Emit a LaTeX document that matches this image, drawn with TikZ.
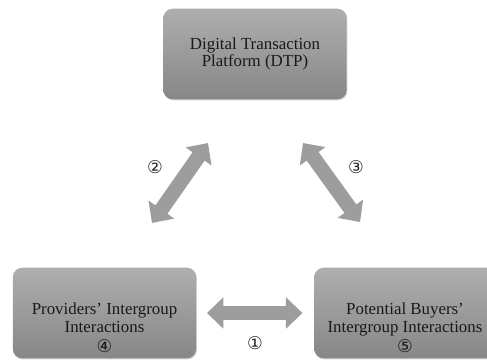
\documentclass[tikz,border=0pt]{standalone}
\usepackage{fontspec}
\setmainfont{Liberation Serif}
\newfontfamily\circfont{DejaVu Sans}
\usetikzlibrary{positioning, arrows.meta, shadows, calc}
\definecolor{boxtop}{HTML}{AEAEAE}
\definecolor{boxbot}{HTML}{878787}
\definecolor{linkgray}{HTML}{9D9D9D}

\begin{document}
\begin{tikzpicture}[x=0.03cm, y=0.03cm, font=\fontsize{14.4}{14.8}\selectfont,
    obox/.style={rounded corners=8pt, top color=boxtop, bottom color=boxbot, minimum width=5.5cm, minimum height=2.72cm, drop shadow={opacity=0.35, shadow xshift=0.6pt, shadow yshift=-0.9pt}},
    otext/.style={align=center, text=black!90, inner sep=0pt},
    link/.style={linkgray, line width=12.5pt, {Triangle[width=26pt, length=14pt]}-{Triangle[width=26pt, length=14pt]}},
    num/.style={font=\circfont\fontsize{15}{15}\selectfont, text=black!85},
    ]
    \clip (0,0) rectangle (487,361);

    \coordinate (c1) at (255,307);
    \coordinate (c2) at (104.5,48);
    \coordinate (c3) at (406,48);

    \node(dtp)[obox] at (c1) {};
    \node(prov)[obox] at (c2) {};
    \node(buy)[obox] at (c3) {};

    \node(dtptxt)[otext] at (dtp.center) {Digital Transaction\\Platform (DTP)};
    \node(provtxt)[otext] at ($(prov.center)+(0,-15)$) {Providers' Intergroup\\Interactions\\[3pt]{\circfont\fontsize{15}{15}\selectfont ④}};
    \node(buytxt)[otext] at ($(buy.center)+(-1,-15)$) {Potential Buyers'\\Intergroup Interactions\\[3pt]{\circfont\fontsize{15}{15}\selectfont ⑤}};

    % free ends of the slanted links
    \coordinate (l2a) at (152,138);
    \coordinate (l2b) at (208,218);
    \coordinate (l3a) at (303,218);
    \coordinate (l3b) at (360,139);

    \draw[link, shorten <=9pt, shorten >=10pt] (prov.east) -- (buy.west);
    \draw[link] (l2a) -- (l2b);
    \draw[link] (l3a) -- (l3b);

    \node(n1)[num] at (255,18) {①};
    \node(n2)[num] at (155,194) {②};
    \node(n3)[num] at (356,194) {③};
\end{tikzpicture}
\end{document}
